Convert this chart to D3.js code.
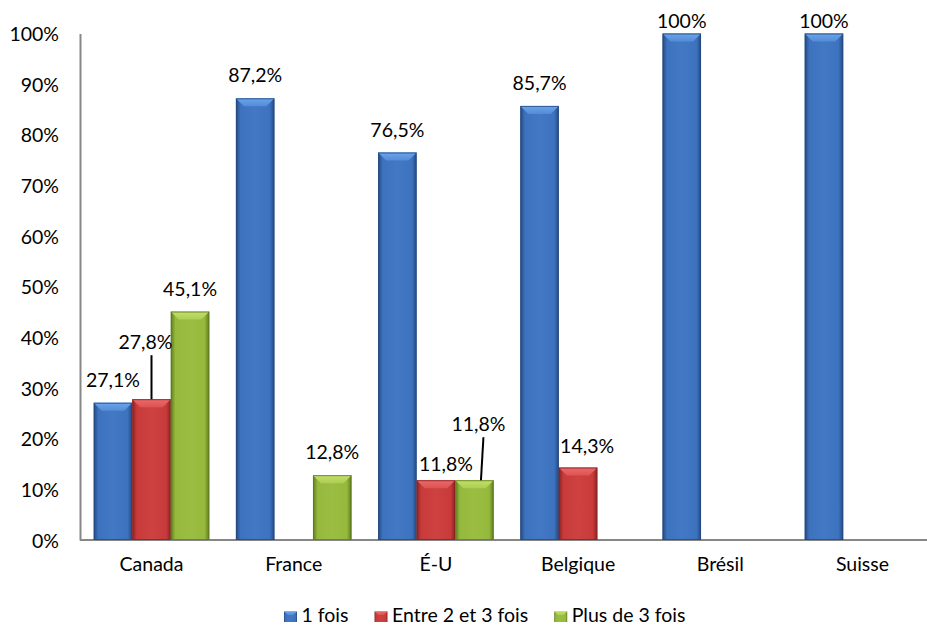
<!DOCTYPE html>
<html>
<head>
<meta charset="utf-8">
<script src="https://cdn.jsdelivr.net/npm/d3@7/dist/d3.min.js"></script>
<style>
  html, body { margin: 0; padding: 0; background: #fff; }
  svg { display: block; }
  text { font-family: Lato, "Open Sans", sans-serif; fill: #000; }
</style>
</head>
<body>
<svg id="chart" width="927" height="626"></svg>
<script>
// ---- data ----
const categories = ["Canada", "France", "É-U", "Belgique", "Brésil", "Suisse"];
const seriesNames = ["1 fois", "Entre 2 et 3 fois", "Plus de 3 fois"];
const serie1 = [27.1, 87.2, 76.5, 85.7, 100, 100];
const serie2 = [27.8, null, 11.8, 14.3, null, null];
const serie3 = [45.1, 12.8, 11.8, null, null, null];
const yTicks = [0, 10, 20, 30, 40, 50, 60, 70, 80, 90, 100];

const seriesValues = [serie1, serie2, serie3];
const palette = [
  { main: "#3d72bf", light: "#6aa5ec", dark: "#24497f" },
  { main: "#c93b3b", light: "#ec6a6a", dark: "#8a2222" },
  { main: "#95b93c", light: "#c4e06a", dark: "#5e7a1e" }
];

// label adjustments (dx, dy from default position; leader line flag)
const labelAdjust = {
  "0-1": { dx: -6, dy: -34, leader: true },
  "2-1": { dx: 10, dy: 7 },
  "2-2": { dx: 4, dy: -33, leader: true },
  "3-1": { dx: 9, dy: 1 }
};

const svg = d3.select("#chart");
const fmt = v => (v === 100 ? "100" : String(v).replace(".", ",")) + "%";

const x0 = d3.scaleBand().domain(categories).range([80.4, 933.6]).padding(0);
const x1 = d3.scaleBand().domain(d3.range(3)).range([0, x0.bandwidth()])
  .paddingInner(0).paddingOuter(0.345);
const y = d3.scaleLinear().domain([0, 100]).range([540, 33.5]);

// gradients
const defs = svg.append("defs");
palette.forEach((c, i) => {
  const gh = defs.append("linearGradient").attr("id", "gh" + i)
    .attr("x1", "0").attr("x2", "1").attr("y1", "0").attr("y2", "0");
  gh.append("stop").attr("offset", "0").attr("stop-color", c.dark);
  gh.append("stop").attr("offset", "0.12").attr("stop-color", c.main);
  gh.append("stop").attr("offset", "0.5").attr("stop-color", d3.interpolateRgb(c.main, c.light)(0.12));
  gh.append("stop").attr("offset", "0.88").attr("stop-color", c.main);
  gh.append("stop").attr("offset", "1").attr("stop-color", c.dark);
  const gv = defs.append("linearGradient").attr("id", "gv" + i)
    .attr("x1", "0").attr("x2", "0").attr("y1", "0").attr("y2", "1");
  gv.append("stop").attr("offset", "0").attr("stop-color", c.light);
  gv.append("stop").attr("offset", "1").attr("stop-color", d3.interpolateRgb(c.light, c.main)(0.5));
});

// axes
const yAxisG = svg.append("g").attr("transform", "translate(80,0)")
  .call(d3.axisLeft(y).tickValues(yTicks).tickSize(0).tickPadding(21).tickFormat(d => d + "%"));
yAxisG.select(".domain").attr("stroke", "#878787").attr("stroke-width", 2);
yAxisG.selectAll("text").attr("font-size", 19.5).attr("font-family", "Lato").attr("fill", "#000").attr("dy", "0.36em");

const xAxisG = svg.append("g").attr("transform", "translate(0,540)")
  .call(d3.axisBottom(x0).tickSize(0).tickPadding(17));
xAxisG.select(".domain").attr("stroke", "#878787").attr("stroke-width", 2)
  .attr("d", "M80,0H933.6");
xAxisG.selectAll("text").attr("font-size", 19.5).attr("font-family", "Lato").attr("fill", "#000");

// bars
const bev = 8;
const barData = [];
categories.forEach((cat, ci) => {
  seriesValues.forEach((vals, si) => {
    const v = vals[ci];
    if (v !== null && v !== undefined) barData.push({ cat, ci, si, v });
  });
});

const barsG = svg.append("g");
barData.forEach(d => {
  const bx = x0(d.cat) + x1(d.si);
  const bw = x1.bandwidth();
  const top = y(d.v);
  const h = y(0) - top;
  const g = barsG.append("g");
  g.append("rect").attr("x", bx).attr("y", top).attr("width", bw).attr("height", h)
    .attr("fill", `url(#gh${d.si})`);
  const b = Math.min(bev, h / 2);
  g.append("path")
    .attr("d", `M${bx},${top}H${bx + bw}L${bx + bw - b},${top + b}H${bx + b}Z`)
    .attr("fill", `url(#gv${d.si})`);
  g.append("rect").attr("x", bx + 0.5).attr("y", top + 0.5).attr("width", bw - 1).attr("height", h - 1)
    .attr("fill", "none").attr("stroke", palette[d.si].dark).attr("stroke-width", 1).attr("stroke-opacity", 0.8);
});

// labels
const labelsG = svg.append("g");
barData.forEach(d => {
  const cx = x0(d.cat) + x1(d.si) + x1.bandwidth() / 2;
  const top = y(d.v);
  let ly = Math.max(top - 16, 28);
  let lx = cx;
  const adj = labelAdjust[d.ci + "-" + d.si];
  if (adj) {
    lx += adj.dx;
    ly += adj.dy;
    if (adj.leader) {
      labelsG.append("line")
        .attr("x1", lx + (d.si === 2 ? 5 : 6)).attr("y1", ly + 6)
        .attr("x2", cx + (d.si === 2 ? 6.5 : 0)).attr("y2", top)
        .attr("stroke", "#000").attr("stroke-width", 2);
    }
  }
  labelsG.append("text").attr("x", lx).attr("y", ly)
    .attr("text-anchor", "middle").attr("font-size", 19.5)
    .text(fmt(d.v));
});

// legend
const legendG = svg.append("g");
let lxPos = 284;
seriesNames.forEach((name, i) => {
  const item = legendG.append("g");
  item.append("rect").attr("x", lxPos).attr("y", 611.5).attr("width", 13).attr("height", 10.5)
    .attr("fill", `url(#gh${i})`);
  item.append("path")
    .attr("d", `M${lxPos},611.5H${lxPos + 13}L${lxPos + 9},615H${lxPos + 4}Z`)
    .attr("fill", `url(#gv${i})`);
  const t = item.append("text").attr("x", lxPos + 17.5).attr("y", 622)
    .attr("font-size", 19.5).text(name);
  const w = t.node().getComputedTextLength();
  lxPos = lxPos + 17.5 + w + 26;
});
</script>
</body>
</html>
